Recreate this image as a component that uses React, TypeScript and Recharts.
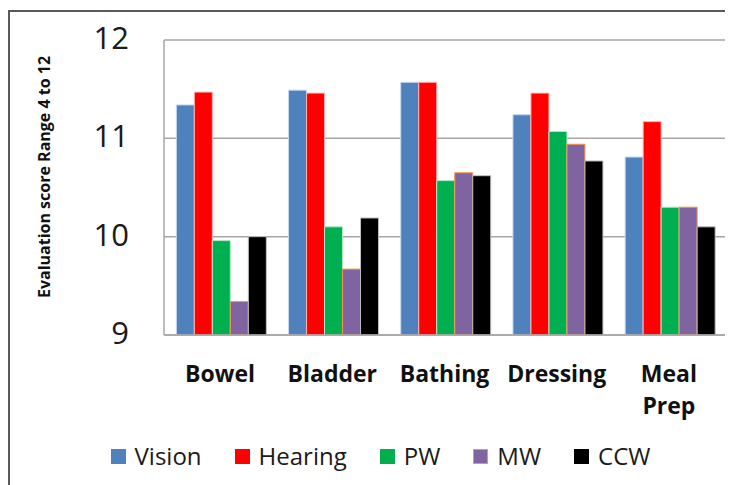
import React from 'react';
import { BarChart, Bar, XAxis, YAxis, CartesianGrid } from 'recharts';

const categories = ['Bowel', 'Bladder', 'Bathing', 'Dressing', 'Meal Prep'];
const vision = [11.34, 11.49, 11.57, 11.24, 10.81];
const hearing = [11.47, 11.46, 11.57, 11.46, 11.17];
const pw = [9.96, 10.1, 10.57, 11.07, 10.3];
const mw = [9.34, 9.67, 10.65, 10.94, 10.3];
const ccw = [10.0, 10.19, 10.62, 10.77, 10.1];
const yTicks = [9, 10, 11, 12];

const series = [
  { key: 'Vision', fill: '#4F81BD', stroke: '#c6d9f1' },
  { key: 'Hearing', fill: '#FF0000', stroke: '#ffb3b3' },
  { key: 'PW', fill: '#00B050', stroke: '#b3e8c9' },
  { key: 'MW', fill: '#8064A2', stroke: '#F79646' },
  { key: 'CCW', fill: '#000000', stroke: '#bfbfbf' },
];

const data = categories.map((name, i) => ({
  name,
  Vision: vision[i],
  Hearing: hearing[i],
  PW: pw[i],
  MW: mw[i],
  CCW: ccw[i],
}));

const FONT = '"Open Sans", sans-serif';

const YTick = (props: any) => {
  const { x, y, payload } = props;
  return (
    <text x={x} y={y} dy={9} textAnchor="end" fontFamily={FONT} fontSize={31} fill="#1a1a1a">
      {payload.value}
    </text>
  );
};

const XTick = (props: any) => {
  const { x, y, payload } = props;
  const lines = String(payload.value).split(' ');
  return (
    <text x={x} y={y} textAnchor="middle" fontFamily={FONT} fontSize={23} fontWeight="bold" fill="#111">
      {lines.map((l, i) => (
        <tspan key={l} x={x} dy={i === 0 ? 45 : 32}>
          {l}
        </tspan>
      ))}
    </text>
  );
};

const YLabel = () => (
  <text
    x={34}
    y={165}
    transform="rotate(-90 34 165)"
    textAnchor="middle"
    dominantBaseline="central"
    fontFamily={FONT}
    fontSize={16}
    fontWeight="bold"
    fill="#111"
  >
    Evaluation score Range 4 to 12
  </text>
);

const App = () => {
  return (
    <div
      style={{
        position: 'relative',
        width: 723,
        height: 475,
        marginTop: 2,
        borderTop: '2px solid #5a5a5a',
        borderLeft: '2px solid #5a5a5a',
        overflow: 'hidden',
      }}
    >
      <BarChart
        width={721}
        height={463}
        data={data}
        margin={{ top: 28, right: 6, left: 0, bottom: 0 }}
        barCategoryGap="11%"
        barGap={0}
      >
        <CartesianGrid vertical={false} stroke="#a6a6a6" strokeWidth={1.5} />
        <XAxis
          dataKey="name"
          height={140}
          tickLine={false}
          tickSize={0}
          axisLine={{ stroke: '#a6a6a6', strokeWidth: 1.5 }}
          tick={<XTick />}
          interval={0}
        />
        <YAxis
          width={154}
          domain={[9, 12]}
          ticks={yTicks}
          allowDataOverflow
          tickLine={false}
          tickSize={0}
          tickMargin={35}
          axisLine={{ stroke: '#a6a6a6', strokeWidth: 1.5 }}
          tick={<YTick />}
          label={<YLabel />}
        />
        {series.map((s) => (
          <Bar
            key={s.key}
            dataKey={s.key}
            fill={s.fill}
            stroke={s.stroke}
            strokeWidth={1}
            isAnimationActive={false}
          />
        ))}
      </BarChart>
      <div
        style={{
          position: 'absolute',
          top: 429,
          left: 10,
          width: 721,
          display: 'flex',
          justifyContent: 'center',
          gap: 33,
          fontFamily: FONT,
          fontSize: 24,
          color: '#1a1a1a',
          lineHeight: '30px',
        }}
      >
        {series.map((s) => (
          <div key={s.key} style={{ display: 'flex', alignItems: 'center' }}>
            <span
              style={{
                display: 'inline-block',
                width: 13,
                height: 13,
                background: s.fill,
                border: `1px solid ${s.key === 'MW' ? '#F79646' : s.fill}`,
                marginRight: 9,
              }}
            />
            <span>{s.key}</span>
          </div>
        ))}
      </div>
    </div>
  );
};

export default App;
